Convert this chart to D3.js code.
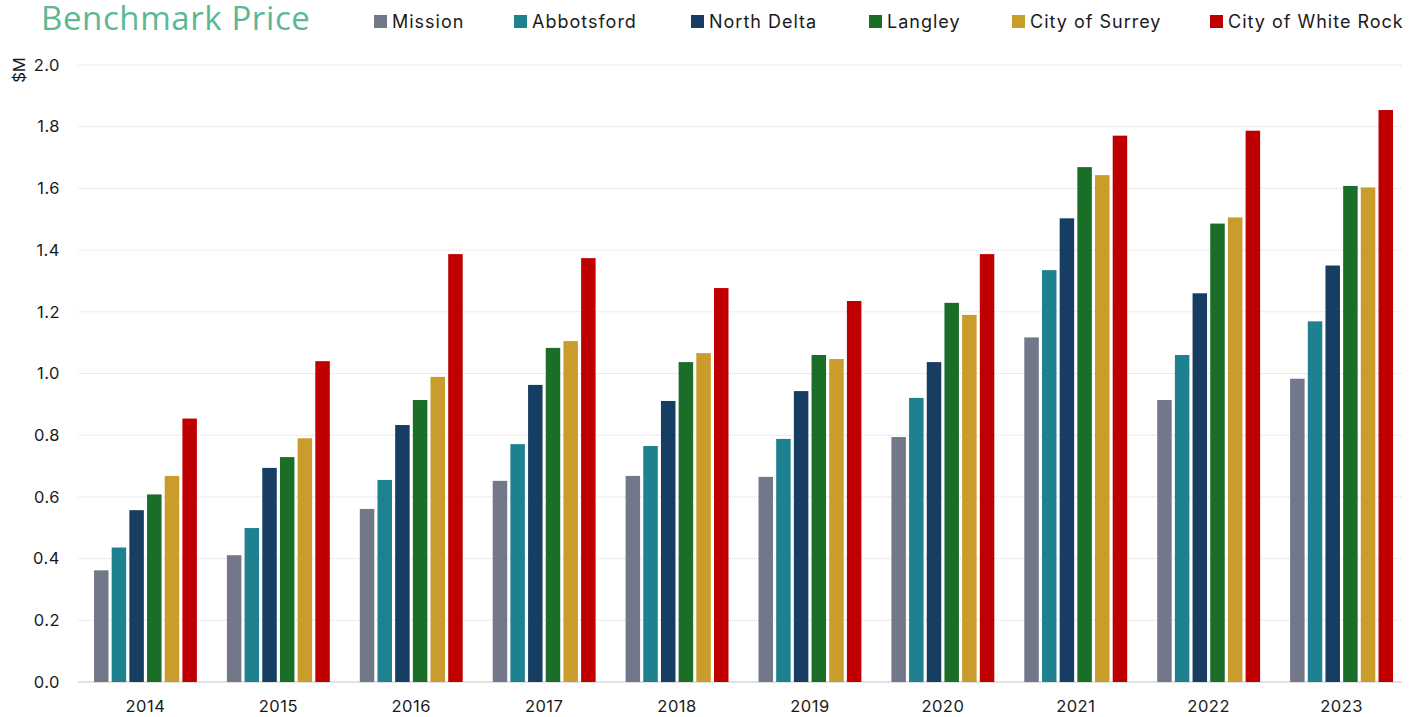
<!DOCTYPE html>
<html>
<head>
<meta charset="utf-8">
<script src="https://cdn.jsdelivr.net/npm/d3@7"></script>
<style>
  body { margin: 0; background: #fff; }
  svg { display: block; }
</style>
</head>
<body>
<div id="chart"></div>
<script>
// data ($M)
const years = ["2014", "2015", "2016", "2017", "2018", "2019", "2020", "2021", "2022", "2023"];
const areas = ["Mission", "Abbotsford", "North Delta", "Langley", "City of Surrey", "City of White Rock"];
const mission    = [0.362, 0.411, 0.561, 0.652, 0.668, 0.665, 0.794, 1.117, 0.914, 0.983];
const abbotsford = [0.436, 0.499, 0.655, 0.771, 0.765, 0.788, 0.921, 1.335, 1.060, 1.169];
const northDelta = [0.557, 0.694, 0.833, 0.963, 0.911, 0.943, 1.037, 1.503, 1.260, 1.350];
const langley    = [0.608, 0.729, 0.914, 1.083, 1.037, 1.060, 1.229, 1.669, 1.486, 1.608];
const surrey     = [0.668, 0.790, 0.989, 1.105, 1.066, 1.047, 1.190, 1.643, 1.506, 1.603];
const whiteRock  = [0.854, 1.040, 1.387, 1.374, 1.277, 1.235, 1.387, 1.771, 1.787, 1.854];
const yTicks = [0, 0.2, 0.4, 0.6, 0.8, 1.0, 1.2, 1.4, 1.6, 1.8, 2.0];

const seriesValues = [mission, abbotsford, northDelta, langley, surrey, whiteRock];
const colors = ["#727789", "#1e8190", "#183d63", "#1a6e28", "#c99c2b", "#c00000"];

const width = 1422, height = 717;
const tickFont = "Inter, 'Noto Sans', sans-serif";

const svg = d3.select("#chart").append("svg")
    .attr("width", width)
    .attr("height", height);

const x0 = d3.scaleBand()
    .domain(years)
    .range([79, 1408]);

const x1 = d3.scaleBand()
    .domain(areas)
    .range([15, x0.bandwidth() - 15])
    .paddingInner(0.18);

const y = d3.scaleLinear()
    .domain([0, 2.0])
    .range([682, 65]);

// gridlines
svg.append("g")
    .selectAll("line")
    .data(yTicks.filter(d => d > 0))
    .join("line")
    .attr("x1", 78)
    .attr("x2", 1402)
    .attr("y1", d => y(d))
    .attr("y2", d => y(d))
    .attr("stroke", "#d9d9d9")
    .attr("stroke-width", 1)
    .attr("stroke-dasharray", "1,1");

svg.append("line")
    .attr("x1", 78).attr("x2", 1402)
    .attr("y1", y(0)).attr("y2", y(0))
    .attr("stroke", "#d9d9d9")
    .attr("stroke-width", 1.5);

// y axis labels
const yAxis = d3.axisLeft(y).tickValues(yTicks).tickFormat(d3.format(".1f")).tickSize(0).tickPadding(0);
svg.append("g")
    .attr("transform", "translate(60,0)")
    .call(yAxis)
    .call(g => g.select(".domain").remove())
    .call(g => g.selectAll("text")
        .attr("font-family", tickFont)
        .attr("font-size", 16.5)
        .attr("letter-spacing", 0.5)
        .attr("fill", "#1a1a1a"));

svg.append("text")
    .attr("transform", "translate(25,70) rotate(-90)")
    .attr("text-anchor", "middle")
    .attr("font-family", tickFont)
    .attr("font-size", 16.5)
    .attr("fill", "#1a1a1a")
    .text("$M");

// x axis labels
const xAxis = d3.axisBottom(x0).tickSize(0).tickPadding(0);
svg.append("g")
    .attr("transform", "translate(0,700)")
    .call(xAxis)
    .call(g => g.select(".domain").remove())
    .call(g => g.selectAll("text")
        .attr("font-family", tickFont)
        .attr("font-size", 16.5)
        .attr("letter-spacing", 0.5)
        .attr("fill", "#1a1a1a"));

// bars
const groups = svg.append("g")
    .selectAll("g")
    .data(years)
    .join("g")
    .attr("transform", d => "translate(" + x0(d) + ",0)");

groups.selectAll("rect")
    .data((yr, i) => areas.map((a, j) => ({ area: a, value: seriesValues[j][i], color: colors[j] })))
    .join("rect")
    .attr("x", d => x1(d.area))
    .attr("width", x1.bandwidth())
    .attr("y", d => y(d.value))
    .attr("height", d => y(0) - y(d.value))
    .attr("fill", d => d.color);

// title
svg.append("text")
    .attr("x", 41)
    .attr("y", 30)
    .attr("font-family", "'Open Sans', 'Noto Sans', sans-serif")
    .attr("font-size", 33)
    .attr("letter-spacing", 0.6)
    .attr("fill", "#5bb794")
    .text("Benchmark Price");

// legend
const legendX = [374, 514, 691, 869, 1012, 1210];
const legend = svg.append("g")
    .selectAll("g")
    .data(areas)
    .join("g")
    .attr("transform", (d, i) => "translate(" + legendX[i] + ",15)");

legend.append("rect")
    .attr("width", 13)
    .attr("height", 13)
    .attr("fill", (d, i) => colors[i]);

legend.append("text")
    .attr("x", 18)
    .attr("y", 12.5)
    .attr("font-family", tickFont)
    .attr("font-size", 18)
    .attr("letter-spacing", 1)
    .attr("fill", "#1a1a1a")
    .text(d => d);
</script>
</body>
</html>
